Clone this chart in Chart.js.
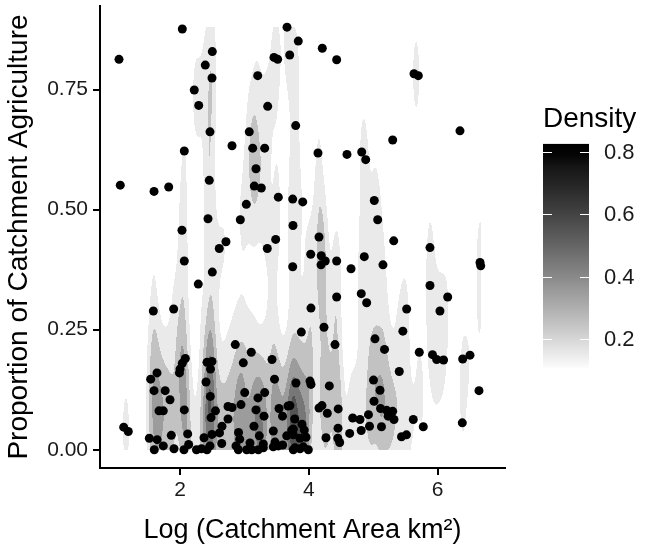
<!DOCTYPE html>
<html lang="en">
<head>
<meta charset="UTF-8">
<title>Catchment agriculture vs catchment area</title>
<script src="https://cdn.jsdelivr.net/npm/chart.js"></script>
<style>
  html, body { margin: 0; padding: 0; background: #fff; }
</style>
</head>
<body>
<canvas id="chart" width="645" height="552"></canvas>
<script>
// Log (catchment area km2) for each site
const logArea = [
  2.035, 1.052, 2.501, 2.392, 2.496, 2.221, 2.290, 3.206, 3.361, 2.465,
  3.075, 2.066, 2.807, 3.128, 3.314, 3.661, 3.836, 4.209, 4.432, 3.459,
  3.516, 3.703, 5.633, 5.700, 3.796, 4.142, 4.592, 4.821, 4.883, 5.302,
  6.347, 1.072, 1.596, 1.824, 2.454, 3.179, 3.153, 3.262, 3.029, 2.434,
  2.936, 2.030, 2.713, 2.609, 3.355, 2.066, 2.501, 2.283, 1.585, 1.901,
  3.526, 3.749, 3.905, 3.754, 5.016, 5.069, 3.485, 4.158, 5.318, 5.881,
  4.029, 4.193, 4.255, 4.189, 4.432, 3.749, 4.655, 4.861, 5.151, 5.881,
  6.156, 4.432, 4.814, 4.898, 4.033, 5.519, 6.036, 6.658, 6.669,
  2.858, 3.106, 2.982, 3.428, 2.082, 2.035, 1.999, 1.991, 2.418, 2.496,
  2.473, 1.642, 1.544, 2.403, 1.596, 1.769, 3.004, 3.314, 1.844, 2.470,
  3.210, 2.946, 1.673, 1.740, 2.066, 2.745, 2.807, 3.179, 2.550, 2.481,
  2.745, 3.304, 2.651, 3.148, 1.125, 1.196, 2.908, 2.613, 3.231, 1.864,
  2.119, 1.523, 1.645, 2.372, 2.926, 2.647, 2.134, 3.293, 1.740, 2.869,
  3.086, 2.465, 1.600, 1.906, 2.061, 2.255, 2.333, 2.418, 2.905, 3.035,
  3.113, 3.215, 2.496,
  3.467, 3.537, 3.676, 3.707, 3.591, 3.448, 3.734, 3.656, 3.474, 3.526,
  3.594, 3.448, 3.293, 3.759, 3.883, 4.235, 4.406, 5.027, 3.800, 4.018,
  4.033, 4.318, 5.004,
  4.158, 4.204, 4.287, 4.456, 5.012, 3.780, 3.894, 3.929, 3.759, 4.681,
  4.794, 4.926, 4.942, 4.453, 4.813, 4.634, 3.956, 3.863, 3.759, 4.266,
  4.450, 4.479, 3.785, 3.863, 3.992, 3.914, 5.175, 5.460, 5.715, 5.920,
  5.985, 6.092, 6.389, 6.502, 5.404, 6.642, 5.105, 5.113, 5.209, 5.302,
  5.232, 5.322,
  5.128, 5.622, 5.777, 6.383, 5.439, 5.516
];

// Proportion of catchment under agriculture, same order
const propAgri = [
  0.876, 0.813, 0.829, 0.801, 0.774, 0.749, 0.717, 0.779, 0.715, 0.662,
  0.662, 0.622, 0.633, 0.628, 0.628, 0.880, 0.851, 0.836, 0.812, 0.817,
  0.813, 0.822, 0.783, 0.779, 0.675, 0.618, 0.615, 0.620, 0.604, 0.645,
  0.664, 0.551, 0.538, 0.547, 0.561, 0.585, 0.549, 0.545, 0.511, 0.481,
  0.479, 0.457, 0.433, 0.419, 0.419, 0.393, 0.370, 0.345, 0.289, 0.293,
  0.526, 0.522, 0.516, 0.467, 0.519, 0.479, 0.438, 0.443, 0.435, 0.421,
  0.407, 0.404, 0.393, 0.385, 0.393, 0.381, 0.377, 0.402, 0.385, 0.342,
  0.318, 0.318, 0.325, 0.306, 0.295, 0.293, 0.289, 0.390, 0.383,
  0.219, 0.203, 0.181, 0.188, 0.190, 0.180, 0.168, 0.160, 0.182, 0.184,
  0.168, 0.160, 0.147, 0.141, 0.123, 0.123, 0.119, 0.119, 0.104, 0.111,
  0.108, 0.094, 0.081, 0.081, 0.083, 0.090, 0.088, 0.083, 0.081, 0.067,
  0.064, 0.070, 0.049, 0.049, 0.047, 0.038, 0.036, 0.035, 0.029, 0.030,
  0.033, 0.024, 0.021, 0.025, 0.022, 0.013, 0.011, 0.012, 0.008, 0.008,
  0.014, 0.008, 0.000, 0.002, 0.000, 0.000, 0.002, 0.000, 0.000, 0.000,
  0.000, 0.000, 0.032,
  0.147, 0.086, 0.091, 0.092, 0.070, 0.039, 0.041, 0.029, 0.016, 0.008,
  0.010, 0.006, 0.004, 0.000, 0.245, 0.255, 0.219, 0.231, 0.139, 0.143,
  0.136, 0.133, 0.145,
  0.087, 0.092, 0.076, 0.085, 0.101, 0.064, 0.053, 0.041, 0.043, 0.066,
  0.063, 0.073, 0.049, 0.045, 0.040, 0.034, 0.026, 0.024, 0.031, 0.025,
  0.024, 0.015, 0.004, 0.002, 0.000, 0.006, 0.209, 0.247, 0.203, 0.198,
  0.188, 0.187, 0.189, 0.197, 0.163, 0.123, 0.124, 0.086, 0.082, 0.080,
  0.070, 0.063,
  0.048, 0.063, 0.048, 0.056, 0.027, 0.031
];

const xTicks = [2, 4, 6];
const yTicks = [0, 0.25, 0.5, 0.75];
const yTickLabels = ['0.00', '0.25', '0.50', '0.75'];
const densityLevels = [0.1, 0.2, 0.3, 0.4, 0.5, 0.6, 0.7, 0.8];
const legendTicks = [0.2, 0.4, 0.6, 0.8];
const legendRange = [0.1, 0.8];

// kernel sd (same units as the axes); the published density was estimated
// on a larger sample than the sites drawn, so it runs lower than a plain KDE
const bwX = 0.065, bwY = 0.11;
const densityScale = 0.66;

const FONT = '"Liberation Sans", Arial, sans-serif';

// white -> black through L*
function grayAt(t) {
  t = Math.min(1, Math.max(0, t));
  const L = 100 * (1 - t);
  const Y = L > 8 ? Math.pow((L + 16) / 116, 3) : L / 903.3;
  const s = Y <= 0.0031308 ? 12.92 * Y : 1.055 * Math.pow(Y, 1 / 2.4) - 0.055;
  const g = Math.round(255 * s);
  return `rgb(${g},${g},${g})`;
}
const levelT = v => (v - legendRange[0]) / (legendRange[1] - legendRange[0]);

const densityPlugin = {
  id: 'density',
  beforeDatasetsDraw(chart) {
    const { ctx, chartArea, scales: { x, y } } = chart;
    const n = logArea.length;
    const xMin = Math.min(...logArea), xMax = Math.max(...logArea);
    const yMin = Math.min(...propAgri), yMax = Math.max(...propAgri);
    const pL = Math.round(x.getPixelForValue(xMin)), pR = Math.round(x.getPixelForValue(xMax));
    const pT = Math.round(y.getPixelForValue(yMax)), pB = Math.round(y.getPixelForValue(yMin));
    const cols = pR - pL, rows = pB - pT;

    const gx = [], gy = [];
    for (let i = 0; i < n; i++) {
      const ax = new Float64Array(cols), ay = new Float64Array(rows);
      for (let c = 0; c < cols; c++) {
        const d = (x.getValueForPixel(pL + c + 0.5) - logArea[i]) / bwX;
        ax[c] = Math.exp(-0.5 * d * d);
      }
      for (let r = 0; r < rows; r++) {
        const d = (y.getValueForPixel(pT + r + 0.5) - propAgri[i]) / bwY;
        ay[r] = Math.exp(-0.5 * d * d);
      }
      gx.push(ax); gy.push(ay);
    }
    const norm = densityScale / (n * 2 * Math.PI * bwX * bwY);
    const colors = densityLevels.map((lv, k) => {
      const next = densityLevels[k + 1] !== undefined ? densityLevels[k + 1] : lv + 0.1;
      return grayAt(levelT((lv + next) / 2));
    });

    ctx.save();
    ctx.beginPath();
    ctx.rect(chartArea.left, chartArea.top, chartArea.right - chartArea.left, chartArea.bottom - chartArea.top);
    ctx.clip();
    const row = new Float64Array(cols);
    for (let r = 0; r < rows; r++) {
      row.fill(0);
      for (let i = 0; i < n; i++) {
        const w = gy[i][r];
        if (w < 1e-6) continue;
        const ax = gx[i];
        for (let c = 0; c < cols; c++) row[c] += w * ax[c];
      }
      let runStart = 0, runBand = -1;
      for (let c = 0; c <= cols; c++) {
        let band = -1;
        if (c < cols) {
          const d = row[c] * norm;
          for (let k = densityLevels.length - 1; k >= 0; k--) {
            if (d >= densityLevels[k]) { band = k; break; }
          }
        }
        if (band !== runBand || c === cols) {
          if (runBand >= 0) {
            ctx.fillStyle = colors[runBand];
            ctx.fillRect(pL + runStart, pT + r, c - runStart, 1);
          }
          runStart = c; runBand = band;
        }
      }
    }
    ctx.restore();
  }
};

const legendPlugin = {
  id: 'densityLegend',
  afterDraw(chart) {
    const ctx = chart.ctx;
    const barL = 543, barW = 46;
    const yOf = v => 152 + (0.8 - v) / 0.2 * 62.3;
    const top = yOf(0.826), bottom = yOf(0.107);
    ctx.save();
    ctx.fillStyle = '#000';
    ctx.font = `28px ${FONT}`;
    ctx.textAlign = 'left';
    ctx.textBaseline = 'alphabetic';
    ctx.fillText('Density', 543, 127);

    const grad = ctx.createLinearGradient(0, bottom, 0, top);
    for (let s = 0; s <= 20; s++) {
      const v = 0.107 + (0.826 - 0.107) * s / 20;
      grad.addColorStop(s / 20, grayAt(levelT(v)));
    }
    ctx.fillStyle = grad;
    ctx.fillRect(barL, top, barW, bottom - top);

    ctx.strokeStyle = '#fff';
    ctx.lineWidth = 1;
    ctx.font = `22px ${FONT}`;
    ctx.textBaseline = 'middle';
    legendTicks.forEach(v => {
      const py = Math.round(yOf(v)) + 0.5;
      ctx.beginPath();
      ctx.moveTo(barL, py); ctx.lineTo(barL + 9, py);
      ctx.moveTo(barL + barW - 9, py); ctx.lineTo(barL + barW, py);
      ctx.stroke();
      ctx.fillStyle = '#1a1a1a';
      ctx.fillText(v.toFixed(1), 604, yOf(v) + 1);
    });
    ctx.restore();
  }
};

const axisCommon = {
  type: 'linear',
  grid: { display: true, drawOnChartArea: false, drawTicks: true, tickLength: 7, color: '#000', lineWidth: 2 },
  border: { display: true, color: '#000', width: 2 }
};

new Chart(document.getElementById('chart'), {
  type: 'scatter',
  data: {
    datasets: [{
      data: logArea.map((v, i) => ({ x: v, y: propAgri[i] })),
      backgroundColor: '#000',
      borderWidth: 0,
      pointRadius: 4.5,
      pointHoverRadius: 4.5
    }]
  },
  options: {
    responsive: false,
    devicePixelRatio: 1,
    animation: false,
    layout: { padding: { left: 0, right: 140, top: 6, bottom: 0 } },
    plugins: { legend: { display: false }, tooltip: { enabled: false } },
    scales: {
      x: {
        ...axisCommon,
        min: 0.757, max: 7.046,
        afterBuildTicks: s => { s.ticks = xTicks.map(v => ({ value: v })); },
        afterFit: s => { s.height = 84; s.paddingLeft = 0; s.paddingRight = 0; },
        ticks: { color: '#1a1a1a', font: { family: FONT, size: 21 }, padding: 3, maxRotation: 0,
                 callback: v => String(v) },
        title: { display: true, text: 'Log (Catchment Area km²)', color: '#000',
                 font: { family: FONT, size: 27 }, padding: { top: 0, bottom: 5 } }
      },
      y: {
        ...axisCommon,
        min: -0.038, max: 0.924,
        afterBuildTicks: s => { s.ticks = yTicks.map(v => ({ value: v })); },
        afterFit: s => { s.width = 100; s.paddingTop = 0; s.paddingBottom = 0; },
        ticks: { color: '#1a1a1a', font: { family: FONT, size: 21 }, padding: 5,
                 callback: (v, i) => yTickLabels[i] },
        title: { display: true, text: 'Proportion of Catchment Agriculture', color: '#000',
                 font: { family: FONT, size: 28 }, padding: { top: 2, bottom: 0 } }
      }
    }
  },
  plugins: [densityPlugin, legendPlugin]
});
</script>
</body>
</html>
